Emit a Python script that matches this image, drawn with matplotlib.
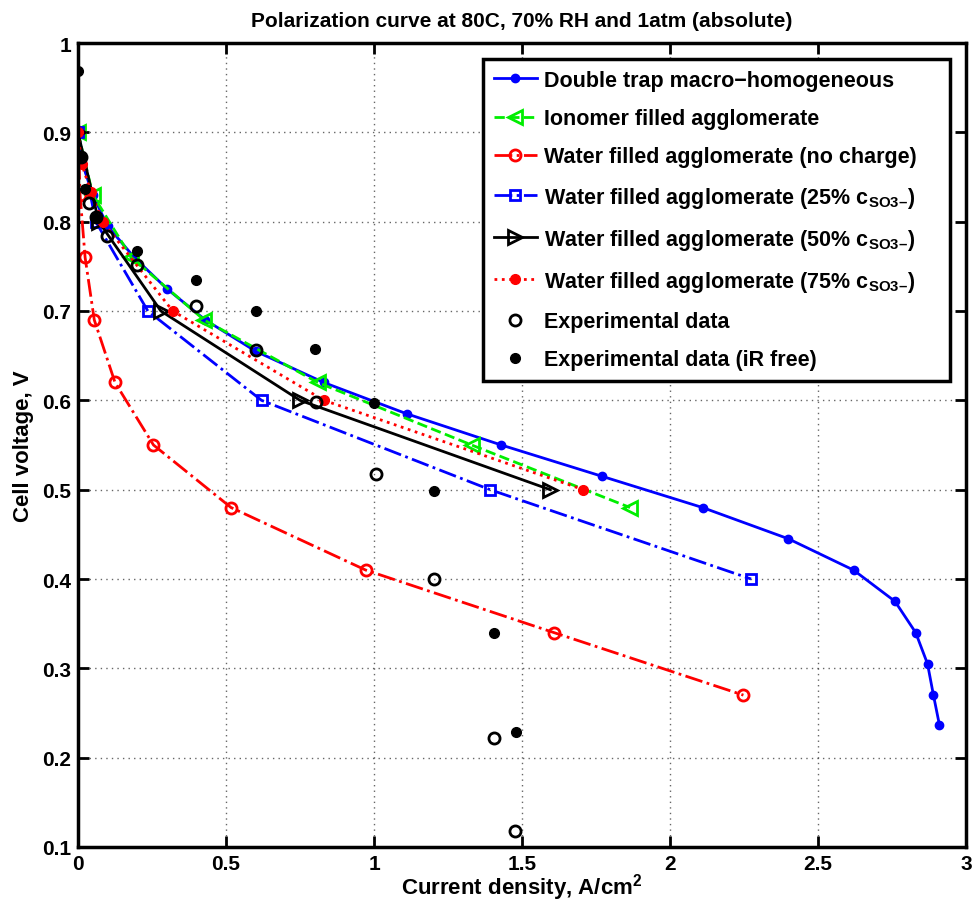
import matplotlib
matplotlib.use("Agg")
import matplotlib.pyplot as plt
import numpy as np

plt.rcParams['font.family'] = ['Liberation Sans', 'DejaVu Sans']
plt.rcParams['font.weight'] = 'bold'
plt.rcParams['mathtext.fontset'] = 'custom'
plt.rcParams['mathtext.rm'] = 'Liberation Sans:bold'
plt.rcParams['mathtext.bf'] = 'Liberation Sans:bold'
plt.rcParams['mathtext.it'] = 'Liberation Sans:bold'

# Double trap macro-homogeneous
dt_x = [0.0, 0.015, 0.05, 0.1, 0.19, 0.30, 0.43, 0.60, 0.83, 1.11, 1.43, 1.77, 2.11, 2.40, 2.62, 2.76, 2.83, 2.87, 2.89, 2.91]
dt_y = [0.90, 0.865, 0.83, 0.795, 0.76, 0.725, 0.69, 0.655, 0.62, 0.585, 0.55, 0.515, 0.48, 0.445, 0.41, 0.375, 0.34, 0.305, 0.27, 0.237]

# Ionomer filled agglomerate
io_x = [0.0, 0.05, 0.18, 0.426, 0.81, 1.33, 1.865]
io_y = [0.90, 0.83, 0.76, 0.69, 0.62, 0.55, 0.48]

# Water filled, no charge
nc_x = [0.0, 0.007, 0.024, 0.055, 0.125, 0.255, 0.517, 0.972, 1.608, 2.248]
nc_y = [0.90, 0.83, 0.76, 0.69, 0.62, 0.55, 0.48, 0.41, 0.34, 0.27]

# Water filled, 25%
w25_x = [0.0, 0.06, 0.236, 0.62, 1.392, 2.274]
w25_y = [0.90, 0.80, 0.70, 0.60, 0.50, 0.40]

# Water filled, 50%
w50_x = [0.0, 0.07, 0.28, 0.75, 1.595]
w50_y = [0.90, 0.80, 0.70, 0.60, 0.50]

# Water filled, 75%
w75_x = [0.0, 0.012, 0.044, 0.083, 0.32, 0.831, 1.707]
w75_y = [0.90, 0.865, 0.833, 0.80, 0.70, 0.60, 0.50]

# Experimental data
ex_x = [0.01, 0.038, 0.06, 0.099, 0.20, 0.40, 0.60, 0.804, 1.007, 1.204, 1.406, 1.477]
ex_y = [0.872, 0.821, 0.805, 0.784, 0.751, 0.706, 0.656, 0.598, 0.517, 0.40, 0.222, 0.118]

# Experimental data (iR free)
ir_x = [0.0, 0.009, 0.024, 0.06, 0.20, 0.40, 0.60, 0.80, 1.0, 1.204, 1.405, 1.48]
ir_y = [0.969, 0.874, 0.837, 0.804, 0.767, 0.735, 0.70, 0.658, 0.597, 0.499, 0.339, 0.229]

SUB = '$_{\\mathregular{SO3\u2013}}$'

fig = plt.figure(figsize=(9.76, 9.04), dpi=100)
ax = fig.add_axes([78/976, 1-848/904, (966-78)/976, (848-44)/904])

lw = 2.0
ax.plot(dt_x, dt_y, '-', color='#0000ff', lw=lw, marker='o', ms=6,
        label='Double trap macro\u2212homogeneous')
ax.plot(io_x, io_y, '--', color='#00ee00', lw=lw, marker='<', ms=10, mfc='none', mew=2,
        label='Ionomer filled agglomerate')
ax.plot(nc_x, nc_y, '-.', color='#ff0000', lw=lw, marker='o', ms=8, mfc='none', mew=2,
        label='Water filled agglomerate (no charge)')
ax.plot(w25_x, w25_y, '-.', color='#0000ff', lw=lw, marker='s', ms=7, mfc='none', mew=2,
        label='Water filled agglomerate (25% c' + SUB + ')')
ax.plot(w50_x, w50_y, '-', color='black', lw=lw, marker='>', ms=10, mfc='none', mew=2,
        label='Water filled agglomerate (50% c' + SUB + ')')
ax.plot(w75_x, w75_y, ':', color='#ff0000', lw=lw, marker='o', ms=7,
        label='Water filled agglomerate (75% c' + SUB + ')')
ax.plot(ex_x, ex_y, 'o', color='black', ms=8, mfc='none', mew=2, linestyle='none',
        label='Experimental data')
ax.plot(ir_x, ir_y, 'o', color='black', ms=7, linestyle='none',
        label='Experimental data (iR free)')

ax.set_xlim(0, 3)
ax.set_ylim(0.1, 1.0)
ax.set_xticks([0, 0.5, 1, 1.5, 2, 2.5, 3])
ax.set_xticklabels(['0', '0.5', '1', '1.5', '2', '2.5', '3'])
ax.set_yticks(np.arange(0.1, 1.01, 0.1))
ax.set_yticklabels(['0.1', '0.2', '0.3', '0.4', '0.5', '0.6', '0.7', '0.8', '0.9', '1'])
ax.grid(True, linestyle=(0, (1, 3)), color='black', lw=1.0, alpha=0.6)
ax.tick_params(direction='in', top=True, right=True, length=8, width=2, labelsize=15, pad=5)
for s in ax.spines.values():
    s.set_linewidth(2.5)

ax.set_title('Polarization curve at 80C, 70% RH and 1atm (absolute)', fontsize=15, fontweight='bold', pad=12)
ax.set_xlabel('Current density, A/cm$^{\\mathregular{2}}$', fontsize=16, fontweight='bold', labelpad=-1)
ax.set_ylabel('Cell voltage, V', fontsize=16, fontweight='bold', labelpad=6)

leg = ax.legend(loc='upper left', bbox_to_anchor=(0.456, 0.0, 0.526, 0.980), mode='expand',
                fontsize=15.5, frameon=True, fancybox=False,
                edgecolor='black', handlelength=2.0, labelspacing=0.8, borderpad=0.5, handletextpad=0.35,
                borderaxespad=0)
leg.get_frame().set_linewidth(2.5)
leg.get_frame().set_alpha(1)

fig.savefig('out.png', dpi=100)
